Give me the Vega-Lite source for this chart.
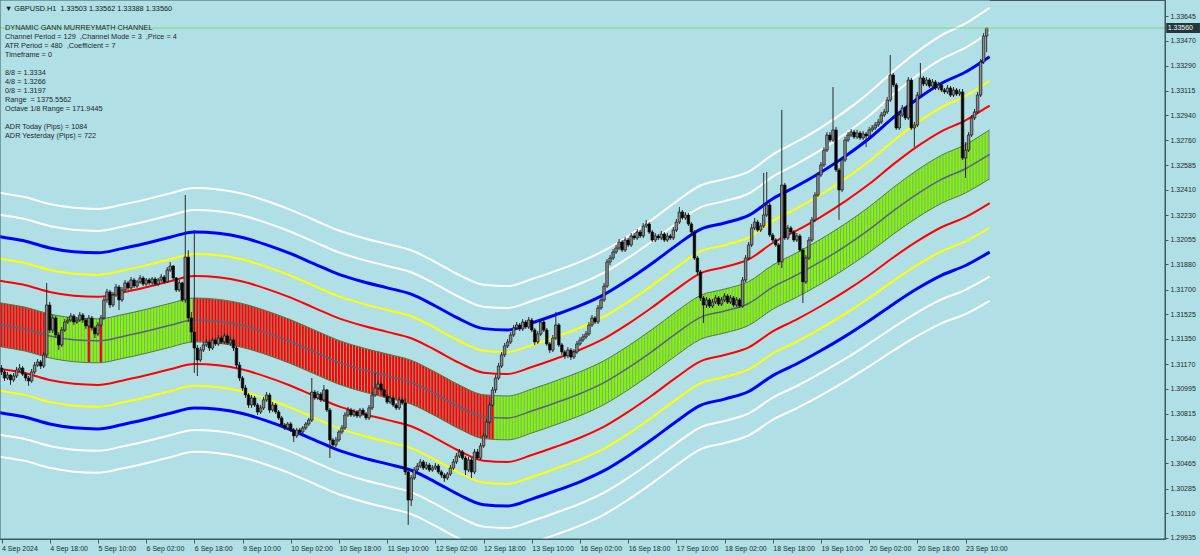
{
"$schema":"https://vega.github.io/schema/vega-lite/v6.json",
"width":1165,"height":539,
"autosize":{"type":"none"},
"padding":{"left":0,"top":0,"right":35,"bottom":16},
"background":"#B0E0E6",
"config":{"view":{"stroke":"#3d5d5d","strokeWidth":1,"fill":"#B0E0E6"},"font":"Liberation Sans","axis":{"grid":false,"labelOverlap":false}},
"title":{"text":"▼ GBPUSD.H1 \u00a01.33503 1.33562 1.33388 1.33560","subtitle":[" DYNAMIC GANN MURREYMATH CHANNEL","Channel Period = 129 \u00a0,Channel Mode = 3 \u00a0,Price = 4","ATR Period = 480 \u00a0,Coefficient = 7","Timeframe = 0","\u200b","8/8 = 1.3334","4/8 = 1.3266","0/8 = 1.3197","Range \u00a0= 1375.5562","Octave 1/8 Range = 171.9445","\u200b","ADR Today (Pips) = 1084","ADR Yesterday (Pips) = 722"],"anchor":"start","frame":"group","orient":"top","offset":-140.6,"dx":5,"font":"Liberation Sans","subtitleFont":"Liberation Sans","fontSize":7.3,"fontWeight":"normal","color":"#101818","subtitleFontSize":7.3,"subtitleColor":"#1a2a2a","subtitleLineHeight":9.05,"subtitlePadding":11.5,"lineHeight":9},
"datasets":{
"lines":[
{"i":-1,"c":1.31452,"u1":1.31608,"u2":1.31765,"u3":1.31921,"u4":1.32078,"u5":1.32234,"u6":1.32390,"l1":1.31296,"l2":1.31139,"l3":1.30983,"l4":1.30826,"l5":1.30670,"l6":1.30514},
{"i":0,"c":1.31448,"u1":1.31604,"u2":1.31761,"u3":1.31917,"u4":1.32074,"u5":1.32230,"u6":1.32386,"l1":1.31292,"l2":1.31135,"l3":1.30979,"l4":1.30822,"l5":1.30666,"l6":1.30510},
{"i":8,"c":1.31418,"u1":1.31574,"u2":1.31731,"u3":1.31887,"u4":1.32044,"u5":1.32200,"u6":1.32356,"l1":1.31262,"l2":1.31105,"l3":1.30949,"l4":1.30792,"l5":1.30636,"l6":1.30480},
{"i":16,"c":1.31370,"u1":1.31526,"u2":1.31683,"u3":1.31839,"u4":1.31996,"u5":1.32152,"u6":1.32308,"l1":1.31214,"l2":1.31057,"l3":1.30901,"l4":1.30744,"l5":1.30588,"l6":1.30432},
{"i":24,"c":1.31343,"u1":1.31499,"u2":1.31656,"u3":1.31812,"u4":1.31969,"u5":1.32125,"u6":1.32281,"l1":1.31187,"l2":1.31030,"l3":1.30874,"l4":1.30717,"l5":1.30561,"l6":1.30405},
{"i":32,"c":1.31335,"u1":1.31491,"u2":1.31648,"u3":1.31804,"u4":1.31961,"u5":1.32117,"u6":1.32273,"l1":1.31179,"l2":1.31022,"l3":1.30866,"l4":1.30709,"l5":1.30553,"l6":1.30397},
{"i":40,"c":1.31365,"u1":1.31521,"u2":1.31678,"u3":1.31834,"u4":1.31991,"u5":1.32147,"u6":1.32303,"l1":1.31209,"l2":1.31052,"l3":1.30896,"l4":1.30739,"l5":1.30583,"l6":1.30427},
{"i":48,"c":1.31403,"u1":1.31559,"u2":1.31716,"u3":1.31872,"u4":1.32029,"u5":1.32185,"u6":1.32341,"l1":1.31247,"l2":1.31090,"l3":1.30934,"l4":1.30777,"l5":1.30621,"l6":1.30465},
{"i":56,"c":1.31446,"u1":1.31602,"u2":1.31759,"u3":1.31915,"u4":1.32072,"u5":1.32228,"u6":1.32384,"l1":1.31290,"l2":1.31133,"l3":1.30977,"l4":1.30820,"l5":1.30664,"l6":1.30508},
{"i":64,"c":1.31484,"u1":1.31640,"u2":1.31797,"u3":1.31953,"u4":1.32110,"u5":1.32266,"u6":1.32422,"l1":1.31328,"l2":1.31171,"l3":1.31015,"l4":1.30858,"l5":1.30702,"l6":1.30546},
{"i":72,"c":1.31474,"u1":1.31630,"u2":1.31787,"u3":1.31943,"u4":1.32100,"u5":1.32256,"u6":1.32412,"l1":1.31318,"l2":1.31161,"l3":1.31005,"l4":1.30848,"l5":1.30692,"l6":1.30536},
{"i":80,"c":1.31444,"u1":1.31600,"u2":1.31757,"u3":1.31913,"u4":1.32070,"u5":1.32226,"u6":1.32382,"l1":1.31288,"l2":1.31131,"l3":1.30975,"l4":1.30818,"l5":1.30662,"l6":1.30506},
{"i":88,"c":1.31392,"u1":1.31548,"u2":1.31705,"u3":1.31861,"u4":1.32018,"u5":1.32174,"u6":1.32330,"l1":1.31236,"l2":1.31079,"l3":1.30923,"l4":1.30766,"l5":1.30610,"l6":1.30454},
{"i":96,"c":1.31329,"u1":1.31485,"u2":1.31642,"u3":1.31798,"u4":1.31955,"u5":1.32111,"u6":1.32267,"l1":1.31173,"l2":1.31016,"l3":1.30860,"l4":1.30703,"l5":1.30547,"l6":1.30391},
{"i":104,"c":1.31255,"u1":1.31411,"u2":1.31568,"u3":1.31724,"u4":1.31881,"u5":1.32037,"u6":1.32193,"l1":1.31099,"l2":1.30942,"l3":1.30786,"l4":1.30629,"l5":1.30473,"l6":1.30317},
{"i":112,"c":1.31182,"u1":1.31338,"u2":1.31495,"u3":1.31651,"u4":1.31808,"u5":1.31964,"u6":1.32120,"l1":1.31026,"l2":1.30869,"l3":1.30713,"l4":1.30556,"l5":1.30400,"l6":1.30244},
{"i":120,"c":1.31129,"u1":1.31285,"u2":1.31442,"u3":1.31598,"u4":1.31755,"u5":1.31911,"u6":1.32067,"l1":1.30973,"l2":1.30816,"l3":1.30660,"l4":1.30503,"l5":1.30347,"l6":1.30191},
{"i":128,"c":1.31086,"u1":1.31242,"u2":1.31399,"u3":1.31555,"u4":1.31712,"u5":1.31868,"u6":1.32024,"l1":1.30930,"l2":1.30773,"l3":1.30617,"l4":1.30460,"l5":1.30304,"l6":1.30148},
{"i":136,"c":1.31041,"u1":1.31197,"u2":1.31354,"u3":1.31510,"u4":1.31667,"u5":1.31823,"u6":1.31979,"l1":1.30885,"l2":1.30728,"l3":1.30572,"l4":1.30415,"l5":1.30259,"l6":1.30103},
{"i":144,"c":1.30957,"u1":1.31113,"u2":1.31270,"u3":1.31426,"u4":1.31583,"u5":1.31739,"u6":1.31895,"l1":1.30801,"l2":1.30644,"l3":1.30488,"l4":1.30331,"l5":1.30175,"l6":1.30019},
{"i":152,"c":1.30865,"u1":1.31021,"u2":1.31178,"u3":1.31334,"u4":1.31491,"u5":1.31647,"u6":1.31803,"l1":1.30709,"l2":1.30552,"l3":1.30396,"l4":1.30239,"l5":1.30083,"l6":1.29927},
{"i":160,"c":1.30796,"u1":1.30952,"u2":1.31109,"u3":1.31265,"u4":1.31422,"u5":1.31578,"u6":1.31734,"l1":1.30640,"l2":1.30483,"l3":1.30327,"l4":1.30170,"l5":1.30014,"l6":1.29858},
{"i":168,"c":1.30787,"u1":1.30943,"u2":1.31100,"u3":1.31256,"u4":1.31413,"u5":1.31569,"u6":1.31725,"l1":1.30631,"l2":1.30474,"l3":1.30318,"l4":1.30161,"l5":1.30005,"l6":1.29849},
{"i":176,"c":1.30836,"u1":1.30992,"u2":1.31149,"u3":1.31305,"u4":1.31462,"u5":1.31618,"u6":1.31774,"l1":1.30680,"l2":1.30523,"l3":1.30367,"l4":1.30210,"l5":1.30054,"l6":1.29898},
{"i":184,"c":1.30895,"u1":1.31051,"u2":1.31208,"u3":1.31364,"u4":1.31521,"u5":1.31677,"u6":1.31833,"l1":1.30739,"l2":1.30582,"l3":1.30426,"l4":1.30269,"l5":1.30113,"l6":1.29957},
{"i":192,"c":1.30959,"u1":1.31115,"u2":1.31272,"u3":1.31428,"u4":1.31585,"u5":1.31741,"u6":1.31897,"l1":1.30803,"l2":1.30646,"l3":1.30490,"l4":1.30333,"l5":1.30177,"l6":1.30021},
{"i":200,"c":1.31038,"u1":1.31194,"u2":1.31351,"u3":1.31507,"u4":1.31664,"u5":1.31820,"u6":1.31976,"l1":1.30882,"l2":1.30725,"l3":1.30569,"l4":1.30412,"l5":1.30256,"l6":1.30100},
{"i":208,"c":1.31143,"u1":1.31299,"u2":1.31456,"u3":1.31612,"u4":1.31769,"u5":1.31925,"u6":1.32081,"l1":1.30987,"l2":1.30830,"l3":1.30674,"l4":1.30517,"l5":1.30361,"l6":1.30205},
{"i":216,"c":1.31261,"u1":1.31417,"u2":1.31574,"u3":1.31730,"u4":1.31887,"u5":1.32043,"u6":1.32199,"l1":1.31105,"l2":1.30948,"l3":1.30792,"l4":1.30635,"l5":1.30479,"l6":1.30323},
{"i":224,"c":1.31388,"u1":1.31544,"u2":1.31701,"u3":1.31857,"u4":1.32014,"u5":1.32170,"u6":1.32326,"l1":1.31232,"l2":1.31075,"l3":1.30919,"l4":1.30762,"l5":1.30606,"l6":1.30450},
{"i":232,"c":1.31502,"u1":1.31658,"u2":1.31815,"u3":1.31971,"u4":1.32128,"u5":1.32284,"u6":1.32440,"l1":1.31346,"l2":1.31189,"l3":1.31033,"l4":1.30876,"l5":1.30720,"l6":1.30564},
{"i":240,"c":1.31547,"u1":1.31703,"u2":1.31860,"u3":1.32016,"u4":1.32173,"u5":1.32329,"u6":1.32485,"l1":1.31391,"l2":1.31234,"l3":1.31078,"l4":1.30921,"l5":1.30765,"l6":1.30609},
{"i":248,"c":1.31601,"u1":1.31757,"u2":1.31914,"u3":1.32070,"u4":1.32227,"u5":1.32383,"u6":1.32539,"l1":1.31445,"l2":1.31288,"l3":1.31132,"l4":1.30975,"l5":1.30819,"l6":1.30663},
{"i":256,"c":1.31717,"u1":1.31874,"u2":1.32031,"u3":1.32189,"u4":1.32346,"u5":1.32503,"u6":1.32660,"l1":1.31560,"l2":1.31403,"l3":1.31245,"l4":1.31088,"l5":1.30931,"l6":1.30774},
{"i":264,"c":1.31804,"u1":1.31962,"u2":1.32120,"u3":1.32278,"u4":1.32436,"u5":1.32594,"u6":1.32751,"l1":1.31646,"l2":1.31488,"l3":1.31330,"l4":1.31172,"l5":1.31014,"l6":1.30857},
{"i":272,"c":1.31900,"u1":1.32059,"u2":1.32217,"u3":1.32376,"u4":1.32534,"u5":1.32693,"u6":1.32852,"l1":1.31741,"l2":1.31583,"l3":1.31424,"l4":1.31266,"l5":1.31107,"l6":1.30948},
{"i":280,"c":1.32007,"u1":1.32167,"u2":1.32327,"u3":1.32487,"u4":1.32647,"u5":1.32807,"u6":1.32967,"l1":1.31847,"l2":1.31687,"l3":1.31527,"l4":1.31367,"l5":1.31207,"l6":1.31047},
{"i":288,"c":1.32126,"u1":1.32288,"u2":1.32450,"u3":1.32612,"u4":1.32774,"u5":1.32936,"u6":1.33099,"l1":1.31964,"l2":1.31802,"l3":1.31640,"l4":1.31478,"l5":1.31316,"l6":1.31153},
{"i":296,"c":1.32259,"u1":1.32425,"u2":1.32590,"u3":1.32756,"u4":1.32922,"u5":1.33088,"u6":1.33253,"l1":1.32093,"l2":1.31928,"l3":1.31762,"l4":1.31596,"l5":1.31430,"l6":1.31265},
{"i":304,"c":1.32381,"u1":1.32550,"u2":1.32718,"u3":1.32887,"u4":1.33055,"u5":1.33224,"u6":1.33392,"l1":1.32212,"l2":1.32044,"l3":1.31875,"l4":1.31707,"l5":1.31538,"l6":1.31370},
{"i":312,"c":1.32484,"u1":1.32655,"u2":1.32825,"u3":1.32996,"u4":1.33167,"u5":1.33338,"u6":1.33508,"l1":1.32313,"l2":1.32143,"l3":1.31972,"l4":1.31801,"l5":1.31630,"l6":1.31460},
{"i":320,"c":1.32559,"u1":1.32731,"u2":1.32903,"u3":1.33075,"u4":1.33247,"u5":1.33420,"u6":1.33592,"l1":1.32387,"l2":1.32215,"l3":1.32043,"l4":1.31871,"l5":1.31698,"l6":1.31526},
{"i":327,"c":1.32648,"u1":1.32822,"u2":1.32995,"u3":1.33169,"u4":1.33342,"u5":1.33516,"u6":1.33689,"l1":1.32474,"l2":1.32301,"l3":1.32127,"l4":1.31954,"l5":1.31780,"l6":1.31607},
{"i":328,"c":1.32661,"u1":1.32835,"u2":1.33008,"u3":1.33182,"u4":1.33356,"u5":1.33530,"u6":1.33703,"l1":1.32487,"l2":1.32314,"l3":1.32140,"l4":1.31966,"l5":1.31792,"l6":1.31619}
],
"candles":[
{"i":0,"o":1.31142,"h":1.31163,"l":1.31092,"c":1.31114,"t":"d"},
{"i":1,"o":1.31114,"h":1.31128,"l":1.31050,"c":1.31071,"t":"d"},
{"i":2,"o":1.31071,"h":1.31114,"l":1.31057,"c":1.31092,"t":"d"},
{"i":3,"o":1.31092,"h":1.31099,"l":1.31022,"c":1.31057,"t":"d"},
{"i":4,"o":1.31057,"h":1.31106,"l":1.31043,"c":1.31085,"t":"d"},
{"i":5,"o":1.31085,"h":1.31149,"l":1.31071,"c":1.31128,"t":"d"},
{"i":6,"o":1.31128,"h":1.31170,"l":1.31114,"c":1.31142,"t":"d"},
{"i":7,"o":1.31142,"h":1.31156,"l":1.31085,"c":1.31099,"t":"d"},
{"i":8,"o":1.31099,"h":1.31114,"l":1.31050,"c":1.31071,"t":"d"},
{"i":9,"o":1.31071,"h":1.31085,"l":1.31015,"c":1.31050,"t":"d"},
{"i":10,"o":1.31050,"h":1.31135,"l":1.31036,"c":1.31114,"t":"d"},
{"i":11,"o":1.31114,"h":1.31185,"l":1.31099,"c":1.31163,"t":"d"},
{"i":12,"o":1.31163,"h":1.31206,"l":1.31149,"c":1.31185,"t":"d"},
{"i":13,"o":1.31185,"h":1.31199,"l":1.31135,"c":1.31156,"t":"d"},
{"i":14,"o":1.31156,"h":1.31256,"l":1.31142,"c":1.31235,"t":"d"},
{"i":15,"o":1.31235,"h":1.31747,"l":1.31213,"c":1.31590,"t":"u"},
{"i":16,"o":1.31590,"h":1.31612,"l":1.31391,"c":1.31412,"t":"u"},
{"i":17,"o":1.31412,"h":1.31519,"l":1.31391,"c":1.31498,"t":"u"},
{"i":18,"o":1.31498,"h":1.31512,"l":1.31356,"c":1.31377,"t":"u"},
{"i":19,"o":1.31377,"h":1.31398,"l":1.31270,"c":1.31306,"t":"u"},
{"i":20,"o":1.31306,"h":1.31434,"l":1.31292,"c":1.31412,"t":"u"},
{"i":21,"o":1.31412,"h":1.31490,"l":1.31398,"c":1.31469,"t":"u"},
{"i":22,"o":1.31469,"h":1.31505,"l":1.31455,"c":1.31483,"t":"u"},
{"i":23,"o":1.31483,"h":1.31533,"l":1.31469,"c":1.31512,"t":"u"},
{"i":24,"o":1.31512,"h":1.31526,"l":1.31448,"c":1.31469,"t":"u"},
{"i":25,"o":1.31469,"h":1.31505,"l":1.31455,"c":1.31483,"t":"u"},
{"i":26,"o":1.31483,"h":1.31540,"l":1.31469,"c":1.31519,"t":"u"},
{"i":27,"o":1.31519,"h":1.31533,"l":1.31462,"c":1.31483,"t":"u"},
{"i":28,"o":1.31483,"h":1.31498,"l":1.31420,"c":1.31441,"t":"u"},
{"i":29,"o":1.31441,"h":1.31519,"l":1.31427,"c":1.31498,"t":"d"},
{"i":30,"o":1.31498,"h":1.31512,"l":1.31406,"c":1.31427,"t":"u"},
{"i":31,"o":1.31427,"h":1.31441,"l":1.31355,"c":1.31384,"t":"u"},
{"i":32,"o":1.31384,"h":1.31469,"l":1.31370,"c":1.31448,"t":"u"},
{"i":33,"o":1.31448,"h":1.31519,"l":1.31434,"c":1.31498,"t":"d"},
{"i":34,"o":1.31498,"h":1.31647,"l":1.31484,"c":1.31626,"t":"u"},
{"i":35,"o":1.31626,"h":1.31704,"l":1.31605,"c":1.31683,"t":"u"},
{"i":36,"o":1.31683,"h":1.31697,"l":1.31569,"c":1.31590,"t":"u"},
{"i":37,"o":1.31590,"h":1.31683,"l":1.31576,"c":1.31661,"t":"u"},
{"i":38,"o":1.31661,"h":1.31740,"l":1.31647,"c":1.31718,"t":"u"},
{"i":39,"o":1.31718,"h":1.31732,"l":1.31555,"c":1.31626,"t":"u"},
{"i":40,"o":1.31626,"h":1.31718,"l":1.31612,"c":1.31697,"t":"u"},
{"i":41,"o":1.31697,"h":1.31768,"l":1.31683,"c":1.31747,"t":"u"},
{"i":42,"o":1.31747,"h":1.31761,"l":1.31697,"c":1.31711,"t":"u"},
{"i":43,"o":1.31711,"h":1.31789,"l":1.31697,"c":1.31768,"t":"u"},
{"i":44,"o":1.31768,"h":1.31782,"l":1.31711,"c":1.31725,"t":"u"},
{"i":45,"o":1.31725,"h":1.31768,"l":1.31711,"c":1.31754,"t":"u"},
{"i":46,"o":1.31754,"h":1.31803,"l":1.31740,"c":1.31782,"t":"u"},
{"i":47,"o":1.31782,"h":1.31796,"l":1.31725,"c":1.31739,"t":"u"},
{"i":48,"o":1.31739,"h":1.31782,"l":1.31725,"c":1.31768,"t":"u"},
{"i":49,"o":1.31768,"h":1.31782,"l":1.31733,"c":1.31747,"t":"u"},
{"i":50,"o":1.31747,"h":1.31789,"l":1.31733,"c":1.31775,"t":"u"},
{"i":51,"o":1.31775,"h":1.31789,"l":1.31725,"c":1.31739,"t":"u"},
{"i":52,"o":1.31739,"h":1.31782,"l":1.31725,"c":1.31768,"t":"u"},
{"i":53,"o":1.31768,"h":1.31810,"l":1.31754,"c":1.31789,"t":"u"},
{"i":54,"o":1.31789,"h":1.31803,"l":1.31740,"c":1.31754,"t":"u"},
{"i":55,"o":1.31754,"h":1.31860,"l":1.31747,"c":1.31839,"t":"u"},
{"i":56,"o":1.31839,"h":1.31896,"l":1.31825,"c":1.31867,"t":"u"},
{"i":57,"o":1.31867,"h":1.31874,"l":1.31768,"c":1.31782,"t":"u"},
{"i":58,"o":1.31782,"h":1.31789,"l":1.31683,"c":1.31697,"t":"u"},
{"i":59,"o":1.31697,"h":1.31768,"l":1.31683,"c":1.31747,"t":"u"},
{"i":60,"o":1.31747,"h":1.31754,"l":1.31611,"c":1.31626,"t":"u"},
{"i":61,"o":1.31626,"h":1.32372,"l":1.31604,"c":1.31930,"t":"u"},
{"i":62,"o":1.31930,"h":1.31980,"l":1.31469,"c":1.31498,"t":"u"},
{"i":63,"o":1.31498,"h":1.31540,"l":1.31327,"c":1.31398,"t":"u"},
{"i":64,"o":1.31398,"h":1.32123,"l":1.31107,"c":1.31284,"t":"d"},
{"i":65,"o":1.31284,"h":1.31306,"l":1.31085,"c":1.31199,"t":"d"},
{"i":66,"o":1.31199,"h":1.31291,"l":1.31185,"c":1.31270,"t":"d"},
{"i":67,"o":1.31270,"h":1.31327,"l":1.31256,"c":1.31306,"t":"d"},
{"i":68,"o":1.31306,"h":1.31348,"l":1.31292,"c":1.31327,"t":"d"},
{"i":69,"o":1.31327,"h":1.31341,"l":1.31263,"c":1.31284,"t":"d"},
{"i":70,"o":1.31284,"h":1.31362,"l":1.31270,"c":1.31341,"t":"d"},
{"i":71,"o":1.31341,"h":1.31355,"l":1.31299,"c":1.31313,"t":"d"},
{"i":72,"o":1.31313,"h":1.31377,"l":1.31299,"c":1.31355,"t":"d"},
{"i":73,"o":1.31355,"h":1.31370,"l":1.31313,"c":1.31327,"t":"d"},
{"i":74,"o":1.31327,"h":1.31391,"l":1.31313,"c":1.31370,"t":"d"},
{"i":75,"o":1.31370,"h":1.31384,"l":1.31306,"c":1.31320,"t":"d"},
{"i":76,"o":1.31320,"h":1.31362,"l":1.31299,"c":1.31341,"t":"d"},
{"i":77,"o":1.31341,"h":1.31355,"l":1.31263,"c":1.31284,"t":"d"},
{"i":78,"o":1.31284,"h":1.31299,"l":1.31142,"c":1.31163,"t":"d"},
{"i":79,"o":1.31163,"h":1.31185,"l":1.31050,"c":1.31071,"t":"d"},
{"i":80,"o":1.31071,"h":1.31085,"l":1.30979,"c":1.31000,"t":"d"},
{"i":81,"o":1.31000,"h":1.31022,"l":1.30929,"c":1.30950,"t":"d"},
{"i":82,"o":1.30950,"h":1.30965,"l":1.30858,"c":1.30879,"t":"d"},
{"i":83,"o":1.30879,"h":1.30950,"l":1.30858,"c":1.30929,"t":"d"},
{"i":84,"o":1.30929,"h":1.30943,"l":1.30865,"c":1.30879,"t":"d"},
{"i":85,"o":1.30879,"h":1.30893,"l":1.30808,"c":1.30829,"t":"d"},
{"i":86,"o":1.30829,"h":1.30879,"l":1.30815,"c":1.30858,"t":"d"},
{"i":87,"o":1.30858,"h":1.30936,"l":1.30843,"c":1.30915,"t":"d"},
{"i":88,"o":1.30915,"h":1.30971,"l":1.30900,"c":1.30950,"t":"d"},
{"i":89,"o":1.30950,"h":1.30964,"l":1.30822,"c":1.30843,"t":"d"},
{"i":90,"o":1.30843,"h":1.30900,"l":1.30829,"c":1.30879,"t":"d"},
{"i":91,"o":1.30879,"h":1.30893,"l":1.30815,"c":1.30829,"t":"d"},
{"i":92,"o":1.30829,"h":1.30843,"l":1.30772,"c":1.30787,"t":"d"},
{"i":93,"o":1.30787,"h":1.30801,"l":1.30723,"c":1.30737,"t":"d"},
{"i":94,"o":1.30737,"h":1.30751,"l":1.30701,"c":1.30716,"t":"d"},
{"i":95,"o":1.30716,"h":1.30758,"l":1.30701,"c":1.30744,"t":"d"},
{"i":96,"o":1.30744,"h":1.30758,"l":1.30687,"c":1.30701,"t":"d"},
{"i":97,"o":1.30701,"h":1.30716,"l":1.30616,"c":1.30659,"t":"d"},
{"i":98,"o":1.30659,"h":1.30716,"l":1.30645,"c":1.30701,"t":"d"},
{"i":99,"o":1.30701,"h":1.30716,"l":1.30673,"c":1.30687,"t":"d"},
{"i":100,"o":1.30687,"h":1.30730,"l":1.30673,"c":1.30716,"t":"d"},
{"i":101,"o":1.30716,"h":1.30758,"l":1.30701,"c":1.30744,"t":"d"},
{"i":102,"o":1.30744,"h":1.30787,"l":1.30730,"c":1.30772,"t":"d"},
{"i":103,"o":1.30772,"h":1.31071,"l":1.30758,"c":1.30971,"t":"d"},
{"i":104,"o":1.30971,"h":1.30986,"l":1.30915,"c":1.30929,"t":"d"},
{"i":105,"o":1.30929,"h":1.30979,"l":1.30915,"c":1.30957,"t":"d"},
{"i":106,"o":1.30957,"h":1.30971,"l":1.30900,"c":1.30915,"t":"d"},
{"i":107,"o":1.30915,"h":1.31021,"l":1.30900,"c":1.30986,"t":"d"},
{"i":108,"o":1.30986,"h":1.30993,"l":1.30829,"c":1.30843,"t":"d"},
{"i":109,"o":1.30843,"h":1.30858,"l":1.30502,"c":1.30630,"t":"d"},
{"i":110,"o":1.30630,"h":1.30645,"l":1.30574,"c":1.30595,"t":"d"},
{"i":111,"o":1.30595,"h":1.30652,"l":1.30580,"c":1.30630,"t":"d"},
{"i":112,"o":1.30630,"h":1.30701,"l":1.30616,"c":1.30687,"t":"d"},
{"i":113,"o":1.30687,"h":1.30737,"l":1.30673,"c":1.30716,"t":"d"},
{"i":114,"o":1.30716,"h":1.30829,"l":1.30701,"c":1.30808,"t":"d"},
{"i":115,"o":1.30808,"h":1.30865,"l":1.30794,"c":1.30843,"t":"d"},
{"i":116,"o":1.30843,"h":1.30858,"l":1.30794,"c":1.30808,"t":"d"},
{"i":117,"o":1.30808,"h":1.30850,"l":1.30794,"c":1.30829,"t":"d"},
{"i":118,"o":1.30829,"h":1.30843,"l":1.30787,"c":1.30801,"t":"d"},
{"i":119,"o":1.30801,"h":1.30858,"l":1.30787,"c":1.30843,"t":"d"},
{"i":120,"o":1.30843,"h":1.30858,"l":1.30801,"c":1.30815,"t":"d"},
{"i":121,"o":1.30815,"h":1.30829,"l":1.30772,"c":1.30787,"t":"d"},
{"i":122,"o":1.30787,"h":1.30879,"l":1.30772,"c":1.30858,"t":"d"},
{"i":123,"o":1.30858,"h":1.30971,"l":1.30843,"c":1.30950,"t":"d"},
{"i":124,"o":1.30950,"h":1.31107,"l":1.30936,"c":1.31000,"t":"d"},
{"i":125,"o":1.31000,"h":1.31050,"l":1.30986,"c":1.31028,"t":"d"},
{"i":126,"o":1.31028,"h":1.31043,"l":1.30971,"c":1.30986,"t":"d"},
{"i":127,"o":1.30986,"h":1.31000,"l":1.30929,"c":1.30943,"t":"d"},
{"i":128,"o":1.30943,"h":1.30957,"l":1.30886,"c":1.30900,"t":"d"},
{"i":129,"o":1.30900,"h":1.30950,"l":1.30886,"c":1.30929,"t":"d"},
{"i":130,"o":1.30929,"h":1.30943,"l":1.30865,"c":1.30879,"t":"d"},
{"i":131,"o":1.30879,"h":1.30893,"l":1.30843,"c":1.30858,"t":"d"},
{"i":132,"o":1.30858,"h":1.30936,"l":1.30843,"c":1.30915,"t":"d"},
{"i":133,"o":1.30915,"h":1.30929,"l":1.30879,"c":1.30893,"t":"d"},
{"i":134,"o":1.30893,"h":1.30929,"l":1.30381,"c":1.30403,"t":"d"},
{"i":135,"o":1.30403,"h":1.30417,"l":1.30026,"c":1.30203,"t":"d"},
{"i":136,"o":1.30203,"h":1.30381,"l":1.30160,"c":1.30360,"t":"d"},
{"i":137,"o":1.30360,"h":1.30438,"l":1.30346,"c":1.30417,"t":"d"},
{"i":138,"o":1.30417,"h":1.30466,"l":1.30403,"c":1.30445,"t":"d"},
{"i":139,"o":1.30445,"h":1.30495,"l":1.30431,"c":1.30474,"t":"d"},
{"i":140,"o":1.30474,"h":1.30488,"l":1.30417,"c":1.30431,"t":"d"},
{"i":141,"o":1.30431,"h":1.30474,"l":1.30417,"c":1.30452,"t":"d"},
{"i":142,"o":1.30452,"h":1.30466,"l":1.30403,"c":1.30417,"t":"d"},
{"i":143,"o":1.30417,"h":1.30452,"l":1.30403,"c":1.30431,"t":"d"},
{"i":144,"o":1.30431,"h":1.30466,"l":1.30417,"c":1.30445,"t":"d"},
{"i":145,"o":1.30445,"h":1.30459,"l":1.30388,"c":1.30403,"t":"d"},
{"i":146,"o":1.30403,"h":1.30417,"l":1.30360,"c":1.30381,"t":"d"},
{"i":147,"o":1.30381,"h":1.30395,"l":1.30332,"c":1.30360,"t":"d"},
{"i":148,"o":1.30360,"h":1.30403,"l":1.30346,"c":1.30388,"t":"d"},
{"i":149,"o":1.30388,"h":1.30452,"l":1.30374,"c":1.30431,"t":"d"},
{"i":150,"o":1.30431,"h":1.30495,"l":1.30417,"c":1.30474,"t":"d"},
{"i":151,"o":1.30474,"h":1.30538,"l":1.30459,"c":1.30516,"t":"d"},
{"i":152,"o":1.30516,"h":1.30566,"l":1.30502,"c":1.30545,"t":"d"},
{"i":153,"o":1.30545,"h":1.30559,"l":1.30488,"c":1.30502,"t":"d"},
{"i":154,"o":1.30502,"h":1.30516,"l":1.30381,"c":1.30417,"t":"d"},
{"i":155,"o":1.30417,"h":1.30509,"l":1.30403,"c":1.30488,"t":"d"},
{"i":156,"o":1.30488,"h":1.30502,"l":1.30360,"c":1.30403,"t":"d"},
{"i":157,"o":1.30403,"h":1.30566,"l":1.30388,"c":1.30545,"t":"d"},
{"i":158,"o":1.30545,"h":1.30566,"l":1.30488,"c":1.30502,"t":"d"},
{"i":159,"o":1.30502,"h":1.30609,"l":1.30488,"c":1.30588,"t":"d"},
{"i":160,"o":1.30588,"h":1.30680,"l":1.30574,"c":1.30659,"t":"d"},
{"i":161,"o":1.30659,"h":1.30779,"l":1.30645,"c":1.30758,"t":"d"},
{"i":162,"o":1.30758,"h":1.30900,"l":1.30744,"c":1.30879,"t":"d"},
{"i":163,"o":1.30879,"h":1.31007,"l":1.30865,"c":1.30986,"t":"d"},
{"i":164,"o":1.30986,"h":1.31092,"l":1.30965,"c":1.31071,"t":"u"},
{"i":165,"o":1.31071,"h":1.31178,"l":1.31057,"c":1.31156,"t":"u"},
{"i":166,"o":1.31156,"h":1.31256,"l":1.31142,"c":1.31235,"t":"u"},
{"i":167,"o":1.31235,"h":1.31320,"l":1.31220,"c":1.31299,"t":"u"},
{"i":168,"o":1.31299,"h":1.31348,"l":1.31284,"c":1.31327,"t":"u"},
{"i":169,"o":1.31327,"h":1.31398,"l":1.31313,"c":1.31377,"t":"u"},
{"i":170,"o":1.31377,"h":1.31448,"l":1.31363,"c":1.31427,"t":"u"},
{"i":171,"o":1.31427,"h":1.31469,"l":1.31412,"c":1.31448,"t":"u"},
{"i":172,"o":1.31448,"h":1.31462,"l":1.31405,"c":1.31420,"t":"u"},
{"i":173,"o":1.31420,"h":1.31490,"l":1.31405,"c":1.31469,"t":"u"},
{"i":174,"o":1.31469,"h":1.31483,"l":1.31420,"c":1.31434,"t":"u"},
{"i":175,"o":1.31434,"h":1.31505,"l":1.31420,"c":1.31483,"t":"u"},
{"i":176,"o":1.31483,"h":1.31498,"l":1.31398,"c":1.31412,"t":"u"},
{"i":177,"o":1.31412,"h":1.31427,"l":1.31306,"c":1.31327,"t":"u"},
{"i":178,"o":1.31327,"h":1.31405,"l":1.31313,"c":1.31384,"t":"u"},
{"i":179,"o":1.31384,"h":1.31490,"l":1.31370,"c":1.31469,"t":"u"},
{"i":180,"o":1.31469,"h":1.31483,"l":1.31398,"c":1.31412,"t":"u"},
{"i":181,"o":1.31412,"h":1.31427,"l":1.31299,"c":1.31313,"t":"u"},
{"i":182,"o":1.31313,"h":1.31327,"l":1.31249,"c":1.31270,"t":"u"},
{"i":183,"o":1.31270,"h":1.31377,"l":1.31256,"c":1.31355,"t":"u"},
{"i":184,"o":1.31355,"h":1.31540,"l":1.31341,"c":1.31448,"t":"u"},
{"i":185,"o":1.31448,"h":1.31462,"l":1.31292,"c":1.31306,"t":"u"},
{"i":186,"o":1.31306,"h":1.31320,"l":1.31235,"c":1.31256,"t":"u"},
{"i":187,"o":1.31256,"h":1.31270,"l":1.31206,"c":1.31228,"t":"u"},
{"i":188,"o":1.31228,"h":1.31291,"l":1.31213,"c":1.31270,"t":"u"},
{"i":189,"o":1.31270,"h":1.31284,"l":1.31199,"c":1.31220,"t":"u"},
{"i":190,"o":1.31220,"h":1.31277,"l":1.31206,"c":1.31256,"t":"u"},
{"i":191,"o":1.31256,"h":1.31334,"l":1.31242,"c":1.31313,"t":"u"},
{"i":192,"o":1.31313,"h":1.31363,"l":1.31299,"c":1.31341,"t":"u"},
{"i":193,"o":1.31341,"h":1.31384,"l":1.31327,"c":1.31363,"t":"u"},
{"i":194,"o":1.31363,"h":1.31405,"l":1.31348,"c":1.31384,"t":"u"},
{"i":195,"o":1.31384,"h":1.31469,"l":1.31370,"c":1.31448,"t":"u"},
{"i":196,"o":1.31448,"h":1.31519,"l":1.31434,"c":1.31498,"t":"u"},
{"i":197,"o":1.31498,"h":1.31512,"l":1.31455,"c":1.31469,"t":"u"},
{"i":198,"o":1.31469,"h":1.31590,"l":1.31455,"c":1.31569,"t":"u"},
{"i":199,"o":1.31569,"h":1.31647,"l":1.31555,"c":1.31626,"t":"u"},
{"i":200,"o":1.31626,"h":1.31747,"l":1.31612,"c":1.31725,"t":"u"},
{"i":201,"o":1.31725,"h":1.31917,"l":1.31711,"c":1.31896,"t":"u"},
{"i":202,"o":1.31896,"h":1.31945,"l":1.31874,"c":1.31924,"t":"u"},
{"i":203,"o":1.31924,"h":1.31988,"l":1.31910,"c":1.31967,"t":"u"},
{"i":204,"o":1.31967,"h":1.32017,"l":1.31953,"c":1.31995,"t":"u"},
{"i":205,"o":1.31995,"h":1.32059,"l":1.31981,"c":1.32038,"t":"u"},
{"i":206,"o":1.32038,"h":1.32052,"l":1.31967,"c":1.31981,"t":"u"},
{"i":207,"o":1.31981,"h":1.32074,"l":1.31967,"c":1.32052,"t":"u"},
{"i":208,"o":1.32052,"h":1.32066,"l":1.32003,"c":1.32017,"t":"u"},
{"i":209,"o":1.32017,"h":1.32102,"l":1.32003,"c":1.32081,"t":"u"},
{"i":210,"o":1.32081,"h":1.32102,"l":1.32052,"c":1.32067,"t":"u"},
{"i":211,"o":1.32067,"h":1.32130,"l":1.32052,"c":1.32109,"t":"u"},
{"i":212,"o":1.32109,"h":1.32123,"l":1.32067,"c":1.32081,"t":"u"},
{"i":213,"o":1.32081,"h":1.32173,"l":1.32067,"c":1.32152,"t":"u"},
{"i":214,"o":1.32152,"h":1.32195,"l":1.32138,"c":1.32166,"t":"u"},
{"i":215,"o":1.32166,"h":1.32180,"l":1.32095,"c":1.32109,"t":"u"},
{"i":216,"o":1.32109,"h":1.32123,"l":1.32038,"c":1.32052,"t":"u"},
{"i":217,"o":1.32052,"h":1.32102,"l":1.32038,"c":1.32081,"t":"u"},
{"i":218,"o":1.32081,"h":1.32095,"l":1.32052,"c":1.32067,"t":"u"},
{"i":219,"o":1.32067,"h":1.32116,"l":1.32052,"c":1.32095,"t":"u"},
{"i":220,"o":1.32095,"h":1.32109,"l":1.32038,"c":1.32052,"t":"u"},
{"i":221,"o":1.32052,"h":1.32102,"l":1.32038,"c":1.32081,"t":"u"},
{"i":222,"o":1.32081,"h":1.32095,"l":1.32052,"c":1.32067,"t":"u"},
{"i":223,"o":1.32067,"h":1.32145,"l":1.32052,"c":1.32123,"t":"u"},
{"i":224,"o":1.32123,"h":1.32202,"l":1.32109,"c":1.32180,"t":"u"},
{"i":225,"o":1.32180,"h":1.32287,"l":1.32166,"c":1.32251,"t":"u"},
{"i":226,"o":1.32251,"h":1.32266,"l":1.32195,"c":1.32209,"t":"u"},
{"i":227,"o":1.32209,"h":1.32251,"l":1.32195,"c":1.32230,"t":"u"},
{"i":228,"o":1.32230,"h":1.32244,"l":1.32152,"c":1.32166,"t":"u"},
{"i":229,"o":1.32166,"h":1.32180,"l":1.32095,"c":1.32109,"t":"u"},
{"i":230,"o":1.32109,"h":1.32123,"l":1.31910,"c":1.31924,"t":"u"},
{"i":231,"o":1.31924,"h":1.31938,"l":1.31804,"c":1.31825,"t":"u"},
{"i":232,"o":1.31825,"h":1.31839,"l":1.31619,"c":1.31640,"t":"u"},
{"i":233,"o":1.31640,"h":1.31654,"l":1.31462,"c":1.31590,"t":"u"},
{"i":234,"o":1.31590,"h":1.31647,"l":1.31569,"c":1.31626,"t":"u"},
{"i":235,"o":1.31626,"h":1.31640,"l":1.31569,"c":1.31583,"t":"u"},
{"i":236,"o":1.31583,"h":1.31633,"l":1.31569,"c":1.31611,"t":"u"},
{"i":237,"o":1.31611,"h":1.31661,"l":1.31597,"c":1.31640,"t":"u"},
{"i":238,"o":1.31640,"h":1.31654,"l":1.31583,"c":1.31597,"t":"u"},
{"i":239,"o":1.31597,"h":1.31647,"l":1.31583,"c":1.31626,"t":"u"},
{"i":240,"o":1.31626,"h":1.31675,"l":1.31611,"c":1.31654,"t":"u"},
{"i":241,"o":1.31654,"h":1.31668,"l":1.31597,"c":1.31611,"t":"u"},
{"i":242,"o":1.31611,"h":1.31661,"l":1.31597,"c":1.31640,"t":"u"},
{"i":243,"o":1.31640,"h":1.31654,"l":1.31576,"c":1.31590,"t":"u"},
{"i":244,"o":1.31590,"h":1.31647,"l":1.31576,"c":1.31626,"t":"u"},
{"i":245,"o":1.31626,"h":1.31640,"l":1.31569,"c":1.31583,"t":"u"},
{"i":246,"o":1.31583,"h":1.31789,"l":1.31569,"c":1.31768,"t":"u"},
{"i":247,"o":1.31768,"h":1.31945,"l":1.31754,"c":1.31924,"t":"u"},
{"i":248,"o":1.31924,"h":1.32038,"l":1.31910,"c":1.32017,"t":"u"},
{"i":249,"o":1.32017,"h":1.32166,"l":1.32003,"c":1.32138,"t":"u"},
{"i":250,"o":1.32138,"h":1.32209,"l":1.32123,"c":1.32180,"t":"u"},
{"i":251,"o":1.32180,"h":1.32195,"l":1.32109,"c":1.32123,"t":"u"},
{"i":252,"o":1.32123,"h":1.32173,"l":1.32109,"c":1.32152,"t":"u"},
{"i":253,"o":1.32152,"h":1.32529,"l":1.32138,"c":1.32230,"t":"u"},
{"i":254,"o":1.32230,"h":1.32536,"l":1.32216,"c":1.32301,"t":"u"},
{"i":255,"o":1.32301,"h":1.32315,"l":1.32074,"c":1.32088,"t":"u"},
{"i":256,"o":1.32088,"h":1.32102,"l":1.32038,"c":1.32052,"t":"u"},
{"i":257,"o":1.32052,"h":1.32066,"l":1.32003,"c":1.32017,"t":"u"},
{"i":258,"o":1.32017,"h":1.32031,"l":1.31874,"c":1.31896,"t":"u"},
{"i":259,"o":1.31896,"h":1.32977,"l":1.31853,"c":1.32443,"t":"u"},
{"i":260,"o":1.32443,"h":1.32458,"l":1.32052,"c":1.32067,"t":"u"},
{"i":261,"o":1.32067,"h":1.32159,"l":1.32052,"c":1.32138,"t":"u"},
{"i":262,"o":1.32138,"h":1.32152,"l":1.32095,"c":1.32109,"t":"u"},
{"i":263,"o":1.32109,"h":1.32123,"l":1.32038,"c":1.32052,"t":"u"},
{"i":264,"o":1.32052,"h":1.32102,"l":1.32038,"c":1.32081,"t":"u"},
{"i":265,"o":1.32081,"h":1.32095,"l":1.31967,"c":1.31981,"t":"u"},
{"i":266,"o":1.31981,"h":1.31995,"l":1.31604,"c":1.31754,"t":"u"},
{"i":267,"o":1.31754,"h":1.31945,"l":1.31740,"c":1.31924,"t":"u"},
{"i":268,"o":1.31924,"h":1.32074,"l":1.31910,"c":1.32052,"t":"u"},
{"i":269,"o":1.32052,"h":1.32216,"l":1.32038,"c":1.32195,"t":"u"},
{"i":270,"o":1.32195,"h":1.32393,"l":1.32180,"c":1.32372,"t":"u"},
{"i":271,"o":1.32372,"h":1.32536,"l":1.32358,"c":1.32515,"t":"u"},
{"i":272,"o":1.32515,"h":1.32607,"l":1.32500,"c":1.32586,"t":"u"},
{"i":273,"o":1.32586,"h":1.32714,"l":1.32572,"c":1.32692,"t":"u"},
{"i":274,"o":1.32692,"h":1.32820,"l":1.32678,"c":1.32799,"t":"u"},
{"i":275,"o":1.32799,"h":1.32820,"l":1.32749,"c":1.32763,"t":"u"},
{"i":276,"o":1.32763,"h":1.33140,"l":1.32749,"c":1.32835,"t":"u"},
{"i":277,"o":1.32835,"h":1.32856,"l":1.32536,"c":1.32550,"t":"u"},
{"i":278,"o":1.32550,"h":1.32565,"l":1.32195,"c":1.32408,"t":"u"},
{"i":279,"o":1.32408,"h":1.32643,"l":1.32393,"c":1.32621,"t":"u"},
{"i":280,"o":1.32621,"h":1.32785,"l":1.32607,"c":1.32763,"t":"u"},
{"i":281,"o":1.32763,"h":1.32820,"l":1.32749,"c":1.32799,"t":"u"},
{"i":282,"o":1.32799,"h":1.32842,"l":1.32785,"c":1.32820,"t":"u"},
{"i":283,"o":1.32820,"h":1.32835,"l":1.32771,"c":1.32785,"t":"u"},
{"i":284,"o":1.32785,"h":1.32835,"l":1.32771,"c":1.32813,"t":"u"},
{"i":285,"o":1.32813,"h":1.32827,"l":1.32764,"c":1.32778,"t":"u"},
{"i":286,"o":1.32778,"h":1.32827,"l":1.32764,"c":1.32806,"t":"u"},
{"i":287,"o":1.32806,"h":1.32820,"l":1.32714,"c":1.32792,"t":"u"},
{"i":288,"o":1.32792,"h":1.32856,"l":1.32778,"c":1.32835,"t":"u"},
{"i":289,"o":1.32835,"h":1.32870,"l":1.32820,"c":1.32849,"t":"u"},
{"i":290,"o":1.32849,"h":1.32891,"l":1.32835,"c":1.32870,"t":"u"},
{"i":291,"o":1.32870,"h":1.32913,"l":1.32856,"c":1.32891,"t":"u"},
{"i":292,"o":1.32891,"h":1.32963,"l":1.32877,"c":1.32941,"t":"u"},
{"i":293,"o":1.32941,"h":1.32984,"l":1.32927,"c":1.32963,"t":"u"},
{"i":294,"o":1.32963,"h":1.33069,"l":1.32949,"c":1.33048,"t":"u"},
{"i":295,"o":1.33048,"h":1.33368,"l":1.33034,"c":1.33226,"t":"u"},
{"i":296,"o":1.33226,"h":1.33240,"l":1.33140,"c":1.33155,"t":"u"},
{"i":297,"o":1.33155,"h":1.33169,"l":1.32835,"c":1.32849,"t":"u"},
{"i":298,"o":1.32849,"h":1.32963,"l":1.32835,"c":1.32941,"t":"u"},
{"i":299,"o":1.32941,"h":1.33012,"l":1.32927,"c":1.32991,"t":"u"},
{"i":300,"o":1.32991,"h":1.33005,"l":1.32906,"c":1.32920,"t":"u"},
{"i":301,"o":1.32920,"h":1.33211,"l":1.32906,"c":1.33190,"t":"u"},
{"i":302,"o":1.33190,"h":1.33204,"l":1.32835,"c":1.32849,"t":"u"},
{"i":303,"o":1.32849,"h":1.32891,"l":1.32714,"c":1.32870,"t":"u"},
{"i":304,"o":1.32870,"h":1.33105,"l":1.32856,"c":1.33083,"t":"u"},
{"i":305,"o":1.33083,"h":1.33311,"l":1.33069,"c":1.33204,"t":"u"},
{"i":306,"o":1.33204,"h":1.33218,"l":1.33147,"c":1.33162,"t":"u"},
{"i":307,"o":1.33162,"h":1.33211,"l":1.33147,"c":1.33190,"t":"u"},
{"i":308,"o":1.33190,"h":1.33204,"l":1.33133,"c":1.33147,"t":"u"},
{"i":309,"o":1.33147,"h":1.33197,"l":1.33133,"c":1.33176,"t":"u"},
{"i":310,"o":1.33176,"h":1.33190,"l":1.33119,"c":1.33133,"t":"u"},
{"i":311,"o":1.33133,"h":1.33176,"l":1.33119,"c":1.33155,"t":"u"},
{"i":312,"o":1.33155,"h":1.33169,"l":1.33105,"c":1.33119,"t":"u"},
{"i":313,"o":1.33119,"h":1.33133,"l":1.33091,"c":1.33105,"t":"u"},
{"i":314,"o":1.33105,"h":1.33155,"l":1.33091,"c":1.33133,"t":"u"},
{"i":315,"o":1.33133,"h":1.33147,"l":1.33069,"c":1.33083,"t":"u"},
{"i":316,"o":1.33083,"h":1.33140,"l":1.33069,"c":1.33119,"t":"u"},
{"i":317,"o":1.33119,"h":1.33133,"l":1.33076,"c":1.33091,"t":"u"},
{"i":318,"o":1.33091,"h":1.33126,"l":1.33076,"c":1.33105,"t":"u"},
{"i":319,"o":1.33105,"h":1.33126,"l":1.32621,"c":1.32635,"t":"u"},
{"i":320,"o":1.32635,"h":1.32749,"l":1.32493,"c":1.32692,"t":"u"},
{"i":321,"o":1.32692,"h":1.32820,"l":1.32678,"c":1.32799,"t":"u"},
{"i":322,"o":1.32799,"h":1.32941,"l":1.32785,"c":1.32920,"t":"u"},
{"i":323,"o":1.32920,"h":1.32984,"l":1.32906,"c":1.32963,"t":"u"},
{"i":324,"o":1.32963,"h":1.33105,"l":1.32949,"c":1.33083,"t":"u"},
{"i":325,"o":1.33083,"h":1.33340,"l":1.33069,"c":1.33318,"t":"u"},
{"i":326,"o":1.33318,"h":1.33524,"l":1.33304,"c":1.33503,"t":"u"},
{"i":327,"o":1.33503,"h":1.33562,"l":1.33388,"c":1.33560,"t":"u"}
]},
"layer":[
{"data":{"name":"lines"},"mark":{"type":"area","color":"#8fa08a","interpolate":"monotone","clip":true},"encoding":{"x":{"field":"i","type":"quantitative","title":null,"scale":{"domain":[-0.5,386.2],"nice":false,"zero":false,"padding":0},"axis":{"values":[0,16,32,48,64,80,96,112,128,144,160,176,192,208,224,240,256,272,288,304,320],"tickCount":60,"labelExpr":"['4 Sep 2024','4 Sep 18:00','5 Sep 10:00','6 Sep 02:00','6 Sep 18:00','9 Sep 10:00','10 Sep 02:00','10 Sep 18:00','11 Sep 10:00','12 Sep 02:00','12 Sep 18:00','13 Sep 10:00','16 Sep 02:00','16 Sep 18:00','17 Sep 10:00','18 Sep 02:00','18 Sep 18:00','19 Sep 10:00','20 Sep 02:00','20 Sep 18:00','23 Sep 10:00'][round(datum.value/16)]","title":null,"grid":false,"orient":"bottom","tickSize":4,"tickColor":"#3d5d5d","domainColor":"#3d5d5d","labelAlign":"left","labelDx":1,"labelPadding":1,"labelFontSize":7,"labelColor":"#1a2a2a","labelFont":"Liberation Sans","labelOverlap":false,"labelBound":false,"labelFlush":false}},"y":{"field":"u1","type":"quantitative","title":null,"scale":{"domain":[1.29926,1.33759],"nice":false,"zero":false,"padding":0},"axis":{"orient":"right","values":[1.33645,1.3347,1.3329,1.33115,1.3294,1.3276,1.32585,1.3241,1.3223,1.32055,1.3188,1.317,1.31525,1.3135,1.3117,1.30995,1.30815,1.3064,1.30465,1.30285,1.3011,1.29935],"tickCount":60,"format":".5f","title":null,"grid":false,"tickSize":3,"tickColor":"#3d5d5d","domainColor":"#3d5d5d","labelFontSize":7,"labelColor":"#1a2a2a","labelFont":"Liberation Sans","labelPadding":2,"labelOverlap":false,"labelBound":false,"labelFlush":false}},"y2":{"field":"l1"}}},
{"data":{"name":"candles"},"mark":{"type":"rule","strokeWidth":2},"encoding":{"x":{"field":"i","type":"quantitative","title":null},"color":{"field":"t","type":"nominal","scale":{"domain":["d","u"],"range":["#ff0000","#7cfc00"]},"legend":null}}},
{"data":{"name":"lines"},"mark":{"type":"area","color":"#B0E0E6","interpolate":"monotone","clip":true},"encoding":{"x":{"field":"i","type":"quantitative","title":null},"y":{"field":"u1","type":"quantitative","title":null},"y2":{"datum":1.3376}}},
{"data":{"name":"lines"},"mark":{"type":"area","color":"#B0E0E6","interpolate":"monotone","clip":true},"encoding":{"x":{"field":"i","type":"quantitative","title":null},"y":{"field":"l1","type":"quantitative","title":null},"y2":{"datum":1.2992}}},
{"data":{"name":"lines"},"transform":[{"fold":["u1","l1"],"as":["k","v"]}],"mark":{"type":"line","color":"#4f7a45","strokeWidth":1,"interpolate":"monotone","clip":true},"encoding":{"x":{"field":"i","type":"quantitative","title":null},"y":{"field":"v","type":"quantitative","title":null},"detail":{"field":"k"}}},
{"data":{"name":"lines"},"mark":{"type":"line","color":"#55657f","strokeWidth":1.5,"interpolate":"monotone","clip":true},"encoding":{"x":{"field":"i","type":"quantitative","title":null},"y":{"field":"c","type":"quantitative","title":null}}},
{"data":{"name":"lines"},"transform":[{"fold":["u6","u5","l5","l6"],"as":["k","v"]}],"mark":{"type":"line","color":"#ffffff","strokeWidth":2,"interpolate":"monotone","clip":true},"encoding":{"x":{"field":"i","type":"quantitative","title":null},"y":{"field":"v","type":"quantitative","title":null},"detail":{"field":"k"}}},
{"data":{"name":"lines"},"transform":[{"fold":["u2","l2"],"as":["k","v"]}],"mark":{"type":"line","color":"#ff0000","strokeWidth":2,"interpolate":"monotone","clip":true},"encoding":{"x":{"field":"i","type":"quantitative","title":null},"y":{"field":"v","type":"quantitative","title":null},"detail":{"field":"k"}}},
{"data":{"name":"lines"},"transform":[{"fold":["u3","l3"],"as":["k","v"]}],"mark":{"type":"line","color":"#ffff00","strokeWidth":2,"interpolate":"monotone","clip":true},"encoding":{"x":{"field":"i","type":"quantitative","title":null},"y":{"field":"v","type":"quantitative","title":null},"detail":{"field":"k"}}},
{"data":{"name":"lines"},"transform":[{"fold":["u4","l4"],"as":["k","v"]}],"mark":{"type":"line","color":"#0000ff","strokeWidth":3,"interpolate":"monotone","clip":true},"encoding":{"x":{"field":"i","type":"quantitative","title":null},"y":{"field":"v","type":"quantitative","title":null},"detail":{"field":"k"}}},
{"data":{"name":"candles"},"mark":{"type":"rule","color":"#2a2a2a","strokeWidth":1},"encoding":{"x":{"field":"i","type":"quantitative","title":null},"y":{"field":"l","type":"quantitative","title":null},"y2":{"field":"h"}}},
{"data":{"name":"candles"},"mark":{"type":"bar","width":2.5,"stroke":"#111111","strokeWidth":0.7},"encoding":{"x":{"field":"i","type":"quantitative","title":null,"scale":{"padding":0}},"y":{"field":"o","type":"quantitative","title":null},"y2":{"field":"c"},"color":{"condition":{"test":"datum.c >= datum.o","value":"#8c8c8c"},"value":"#000000"}}},
{"data":{"values":[{"p":1.3356,"s":"1.33560"}]},"mark":{"type":"rule","color":"#86d486","strokeWidth":1},"encoding":{"y":{"field":"p","type":"quantitative","title":null}}},
{"data":{"values":[{"p":1.3356,"s":"1.33560"}]},"mark":{"type":"rect","fillOpacity":0,"stroke":"#3d5d5d","strokeWidth":1,"clip":false},"encoding":{"x":{"datum":-0.5,"type":"quantitative","title":null},"x2":{"datum":386.2},"y":{"datum":1.29926,"type":"quantitative","title":null},"y2":{"datum":1.33759}}},
{"data":{"values":[{"p":1.3356,"s":"1.33560"}]},"mark":{"type":"rule","color":"#22383c","strokeWidth":10,"clip":false},"encoding":{"x":{"datum":386.6,"type":"quantitative","title":null},"x2":{"datum":397.8},"y":{"field":"p","type":"quantitative","title":null}}},
{"data":{"values":[{"p":1.3356,"s":"1.33560"}]},"mark":{"type":"text","color":"#ffffff","align":"left","baseline":"middle","fontSize":7,"font":"Liberation Sans","clip":false},"encoding":{"x":{"datum":387.1,"type":"quantitative","title":null},"y":{"field":"p","type":"quantitative","title":null},"text":{"field":"s"}}}
]
}
